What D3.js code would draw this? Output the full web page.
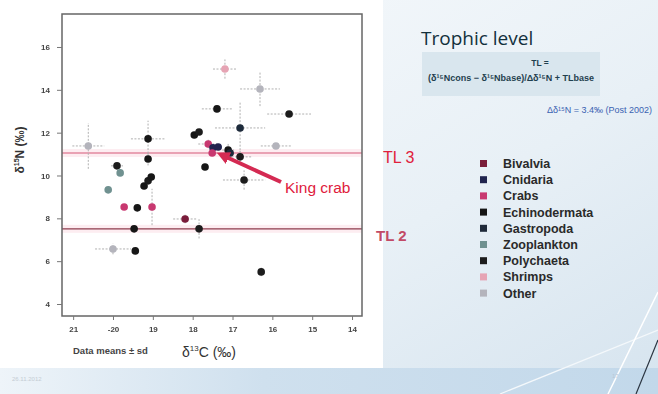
<!DOCTYPE html>
<html>
<head>
<meta charset="utf-8">
<script src="https://cdn.jsdelivr.net/npm/d3@7"></script>
<style>
  body { margin: 0; background: #fff; }
  svg { display: block; font-family: Arial, "Liberation Sans", sans-serif; }
</style>
</head>
<body>
<svg id="chart" width="658" height="394"></svg>
<script>
// legend groups
var groups = ['Bivalvia', 'Cnidaria', 'Crabs', 'Echinodermata', 'Gastropoda', 'Zooplankton', 'Polychaeta', 'Shrimps', 'Other'];
var groupColors = ['#7a1e3a', '#20244e', '#c83870', '#151515', '#1f2a3a', '#6f9190', '#1c1c1c', '#e6a4b4', '#b4b4bc'];

// data means (d13C, d15N) and sd, group index
var d13C  = [-20.62, -19.12, -19.12, -19.90, -19.82, -20.12, -19.22, -19.12, -19.04, -17.96, -17.84, -17.19, -16.31, -17.39, -15.58, -16.81, -15.91, -17.61, -17.49, -17.36, -17.51, -17.11, -17.06, -16.81, -17.69, -16.71, -19.72, -19.39, -19.02, -18.19, -19.47, -17.84, -20.00, -19.44, -16.28];
var d15N  = [11.38, 11.71, 10.77, 10.45, 10.12, 9.33, 9.51, 9.75, 9.93, 11.89, 12.03, 14.97, 14.04, 13.11, 12.87, 12.22, 11.38, 11.47, 11.29, 11.33, 11.05, 11.19, 11.05, 10.87, 10.40, 9.79, 8.53, 8.49, 8.53, 7.97, 7.51, 7.51, 6.57, 6.48, 5.50];
var sdC   = [0.40, 0.43, 0, 0.15, 0, 0, 0, 0, 0, 0, 0, 0.30, 0.50, 0.38, 0.55, 0.63, 0.38, 0.25, 0, 0, 0, 0.15, 0, 0.30, 0, 0.53, 0, 0, 0, 0.30, 0, 0, 0.45, 0, 0];
var sdN   = [1.07, 0.85, 0.30, 0, 0, 0, 0, 0, 0, 0, 0, 0.45, 0.80, 0, 0, 1.20, 0, 0.20, 0, 0, 0, 0.30, 0, 0.30, 0, 0.45, 0, 0, 0.85, 0.20, 0, 0.45, 0.25, 0, 0.20];
var group = [8, 3, 3, 6, 5, 5, 3, 6, 3, 3, 6, 7, 8, 3, 6, 4, 8, 2, 1, 1, 2, 3, 4, 6, 3, 6, 2, 3, 2, 0, 3, 6, 8, 3, 6];

// trophic level lines (d15N)
var tlNames  = ['TL 3', 'TL 2'];
var tlValues = [11.05, 7.51];

var xTicks = [-21, -20, -19, -18, -17, -16, -15, -14];
var xTickLabels = ['21', '-20', '19', '18', '17', '16', '15', '14'];
var yTicks = [4, 6, 8, 10, 12, 14, 16];

var svg = d3.select('#chart');
var defs = svg.append('defs');

var bg = defs.append('linearGradient').attr('id', 'bg').attr('x1', 0).attr('y1', 0).attr('x2', 1).attr('y2', 1);
bg.append('stop').attr('offset', '0%').attr('stop-color', '#f9fbfd');
bg.append('stop').attr('offset', '60%').attr('stop-color', '#e8f0f6');
bg.append('stop').attr('offset', '100%').attr('stop-color', '#d6e4ef');

var band = defs.append('linearGradient').attr('id', 'band').attr('x1', 0).attr('y1', 0).attr('x2', 1).attr('y2', 0);
band.append('stop').attr('offset', '0%').attr('stop-color', '#eef4f9');
band.append('stop').attr('offset', '40%').attr('stop-color', '#cfe0ee');
band.append('stop').attr('offset', '100%').attr('stop-color', '#c2d8ea');

defs.append('filter').attr('id', 'soft')
    .append('feGaussianBlur').attr('stdDeviation', 0.45);

// slide background
svg.append('rect').attr('width', 658).attr('height', 394).attr('fill', 'url(#bg)');
svg.append('rect').attr('x', 0).attr('y', 368).attr('width', 658).attr('height', 26).attr('fill', 'url(#band)');
svg.append('line').attr('x1', 500).attr('y1', 394).attr('x2', 658).attr('y2', 330).attr('stroke', '#f4f8fb').attr('stroke-width', 1.2);
svg.append('line').attr('x1', 608).attr('y1', 394).attr('x2', 658).attr('y2', 292).attr('stroke', '#ffffff').attr('stroke-width', 1.5);
svg.append('line').attr('x1', 636).attr('y1', 394).attr('x2', 658).attr('y2', 340).attr('stroke', '#2a3440').attr('stroke-width', 1.2);

// white chart picture
svg.append('rect').attr('x', 0).attr('y', 0).attr('width', 383).attr('height', 368).attr('fill', '#ffffff');

var x = d3.scaleLinear().domain([-21.28, -13.75]).range([62, 362]);
var y = d3.scaleLinear().domain([3.44, 17.54]).range([316, 14]);

var plot = svg.append('g').attr('filter', 'url(#soft)');

// trophic level bands and lines
plot.selectAll('rect.tlband')
    .data(tlValues)
    .enter()
    .append('rect')
    .attr('class', 'tlband')
    .attr('x', x.range()[0])
    .attr('y', function (d) { return y(d) - 4; })
    .attr('width', x.range()[1] - x.range()[0])
    .attr('height', 8)
    .attr('fill', '#fdedf1');

plot.selectAll('line.tl')
    .data(tlValues)
    .enter()
    .append('line')
    .attr('class', 'tl')
    .attr('x1', x.range()[0])
    .attr('x2', x.range()[1])
    .attr('y1', function (d) { return y(d); })
    .attr('y2', function (d) { return y(d); })
    .attr('stroke', function (d, i) { return i === 0 ? '#e9a2b4' : '#8c3a4c'; })
    .attr('stroke-width', function (d, i) { return i === 0 ? 2.2 : 1.4; });

// error bars
var pts = d13C.map(function (c, i) {
    return { c: c, n: d15N[i], sc: sdC[i], sn: sdN[i], g: group[i] };
});

var err = plot.append('g')
    .attr('stroke', '#b0b0b0')
    .attr('stroke-width', 1)
    .attr('stroke-dasharray', '2,1.5');

err.selectAll('line.ex')
    .data(pts.filter(function (d) { return d.sc > 0; }))
    .enter()
    .append('line')
    .attr('x1', function (d) { return x(d.c - d.sc); })
    .attr('x2', function (d) { return x(d.c + d.sc); })
    .attr('y1', function (d) { return y(d.n); })
    .attr('y2', function (d) { return y(d.n); });

err.selectAll('line.ey')
    .data(pts.filter(function (d) { return d.sn > 0; }))
    .enter()
    .append('line')
    .attr('x1', function (d) { return x(d.c); })
    .attr('x2', function (d) { return x(d.c); })
    .attr('y1', function (d) { return y(d.n - d.sn); })
    .attr('y2', function (d) { return y(d.n + d.sn); });

// points
plot.selectAll('circle.pt')
    .data(pts)
    .enter()
    .append('circle')
    .attr('class', 'pt')
    .attr('cx', function (d) { return x(d.c); })
    .attr('cy', function (d) { return y(d.n); })
    .attr('r', 3.8)
    .attr('fill', function (d) { return groupColors[d.g]; });

// frame
plot.append('rect')
    .attr('x', 62).attr('y', 14)
    .attr('width', 300).attr('height', 302)
    .attr('fill', 'none')
    .attr('stroke', '#666')
    .attr('stroke-width', 1.5);

// axes
var xAxis = d3.axisBottom(x)
    .tickValues(xTicks)
    .tickSize(4)
    .tickFormat(function (d, i) { return xTickLabels[i]; });

var yAxis = d3.axisLeft(y)
    .tickValues(yTicks)
    .tickSize(5)
    .tickFormat(d3.format('d'));

var gx = plot.append('g').attr('transform', 'translate(0,316)').call(xAxis);
var gy = plot.append('g').attr('transform', 'translate(62,0)').call(yAxis);

[gx, gy].forEach(function (g) {
    g.select('.domain').remove();
    g.selectAll('line').attr('stroke', '#777');
    g.selectAll('text')
        .attr('fill', '#444')
        .style('font-size', '8px')
        .style('font-weight', 'bold')
        .style('font-family', 'Arial, sans-serif');
});
gx.selectAll('text').attr('dy', '1.1em');
gy.selectAll('text').attr('dx', '-4px');

// axis titles
svg.append('text')
    .attr('transform', 'translate(24,150) rotate(-90)')
    .attr('text-anchor', 'middle')
    .attr('fill', '#333')
    .style('font-size', '12px')
    .style('font-weight', 'bold')
    .html('δ<tspan dy="-5" font-size="7">15</tspan><tspan dy="5">N (‰)</tspan>');

svg.append('text')
    .attr('x', 73).attr('y', 354)
    .attr('fill', '#444')
    .style('font-size', '9.5px')
    .style('font-weight', 'bold')
    .text('Data  means ± sd');

svg.append('text')
    .attr('x', 182).attr('y', 357)
    .attr('fill', '#333')
    .style('font-size', '14px')
    .html('δ<tspan dy="-6" font-size="8">13</tspan><tspan dy="6">C (‰)</tspan>');

// TL labels
svg.append('text')
    .attr('x', 383).attr('y', 163)
    .attr('fill', '#e0203c')
    .style('font-size', '16px')
    .text(tlNames[0]);

svg.append('text')
    .attr('x', 376).attr('y', 241)
    .attr('fill', '#c24a66')
    .style('font-size', '15px')
    .style('font-weight', 'bold')
    .text(tlNames[1]);

// King crab annotation
var kc = pts[20];
defs.append('marker')
    .attr('id', 'head')
    .attr('viewBox', '0 0 10 10')
    .attr('refX', 2).attr('refY', 5)
    .attr('markerWidth', 3.2).attr('markerHeight', 3.2)
    .attr('orient', 'auto')
    .append('path')
    .attr('d', 'M0,0L10,5L0,10Z')
    .attr('fill', '#d42a52');

svg.append('line')
    .attr('x1', 281).attr('y1', 182)
    .attr('x2', x(kc.c) + 14).attr('y2', y(kc.n) + 4)
    .attr('stroke', '#d42a52')
    .attr('stroke-width', 4)
    .attr('marker-end', 'url(#head)');

svg.append('text')
    .attr('x', 285).attr('y', 193)
    .attr('fill', '#e0203c')
    .style('font-size', '15.5px')
    .text('King crab');

// title and formula
svg.append('text')
    .attr('x', 421).attr('y', 45)
    .attr('fill', '#12303c')
    .style('font-family', '"Open Sans", "DejaVu Sans", sans-serif')
    .style('font-size', '19px')
    .text('Trophic level');

svg.append('rect')
    .attr('x', 422).attr('y', 52)
    .attr('width', 178).attr('height', 44)
    .attr('fill', '#d9e6ee');

svg.append('text')
    .attr('x', 540).attr('y', 66)
    .attr('text-anchor', 'middle')
    .attr('fill', '#1f3f4f')
    .style('font-size', '8.5px')
    .style('font-weight', 'bold')
    .text('TL =');

svg.append('text')
    .attr('x', 428).attr('y', 81)
    .attr('fill', '#1f3f4f')
    .style('font-size', '9px')
    .style('font-weight', 'bold')
    .text('(δ¹⁵Ncons − δ¹⁵Nbase)/Δδ¹⁵N + TLbase');

svg.append('text')
    .attr('x', 652).attr('y', 113)
    .attr('text-anchor', 'end')
    .attr('fill', '#3a62b2')
    .style('font-size', '9px')
    .text('Δδ¹⁵N = 3.4‰ (Post 2002)');

// legend
var legend = svg.append('g').attr('transform', 'translate(480,160)');
var items = legend.selectAll('g')
    .data(groups)
    .enter()
    .append('g')
    .attr('transform', function (d, i) { return 'translate(0,' + (i * 16.2) + ')'; });

items.append('rect')
    .attr('width', 7).attr('height', 7)
    .attr('fill', function (d, i) { return groupColors[i]; });

items.append('text')
    .attr('x', 23).attr('y', 8)
    .attr('fill', '#2a2a2a')
    .style('font-size', '12.5px')
    .style('font-weight', 'bold')
    .text(String);

// footer
svg.append('text')
    .attr('x', 12).attr('y', 381)
    .attr('fill', '#c4ccd4')
    .style('font-size', '6px')
    .text('26.11.2012');

svg.append('text')
    .attr('x', 612).attr('y', 378)
    .attr('fill', '#b8c8d8')
    .style('font-size', '6px')
    .text('17');
</script>
</body>
</html>
